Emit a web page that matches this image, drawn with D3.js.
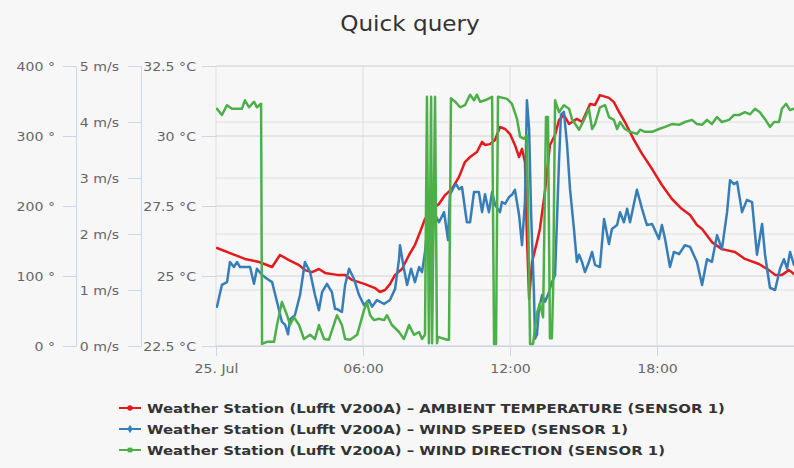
<!DOCTYPE html>
<html><head><meta charset="utf-8">
<script src="https://cdn.jsdelivr.net/npm/d3@7/dist/d3.min.js"></script>
<style>html,body{margin:0;padding:0;background:#f7f7f7;} svg{display:block;}</style>
</head><body>
<svg id="chart" width="794" height="468"></svg>
<script>
// ---- data: [hour of 25 Jul, value] ----
const temperature = [[0.04,26.00],[0.65,25.79],[1.18,25.61],[1.76,25.50],[2.29,25.32],[2.61,25.75],[2.98,25.57],[3.39,25.39],[3.63,25.21],[3.92,25.14],[4.20,25.25],[4.45,25.11],[4.94,25.04],[5.27,25.04],[5.55,24.86],[6.08,24.71],[6.49,24.57],[6.69,24.43],[6.90,24.50],[7.10,24.71],[7.31,25.04],[7.59,25.25],[7.88,25.75],[8.12,26.11],[8.33,26.57],[8.53,27.04],[8.82,27.39],[9.10,27.57],[9.35,27.89],[9.63,28.11],[9.92,28.54],[10.16,29.07],[10.37,29.25],[10.65,29.43],[10.86,29.79],[10.98,29.68],[11.18,29.71],[11.39,29.86],[11.59,30.32],[11.80,30.25],[12.00,30.07],[12.20,29.68],[12.37,29.25],[12.49,29.54],[12.61,29.07],[12.69,26.46],[12.78,24.18],[12.90,25.50],[13.10,26.21],[13.22,26.68],[13.43,28.04],[13.63,29.68],[13.84,30.04],[14.00,30.57],[14.20,30.75],[14.41,30.43],[14.73,30.61],[14.94,30.50],[15.27,31.14],[15.47,31.11],[15.67,31.46],[16.04,31.36],[16.24,31.21],[16.45,30.86],[16.69,30.50],[17.06,29.86],[17.39,29.36],[17.80,28.82],[18.20,28.25],[18.61,27.75],[19.02,27.39],[19.35,27.18],[19.63,26.82],[19.84,26.68],[20.24,26.21],[20.65,25.96],[21.18,25.86],[21.59,25.61],[22.16,25.43],[22.57,25.21],[22.82,25.04],[23.10,25.04],[23.39,25.21],[23.59,25.07]];

const windSpeed = [[0.04,0.70],[0.24,1.09],[0.45,1.14],[0.57,1.50],[0.73,1.41],[0.86,1.50],[0.98,1.41],[1.39,1.41],[1.55,1.11],[1.67,1.38],[1.88,1.27],[2.08,1.20],[2.29,1.14],[2.49,0.79],[2.69,0.43],[2.82,0.38],[2.94,0.21],[3.02,0.48],[3.22,0.55],[3.43,0.91],[3.63,1.50],[3.84,1.32],[4.04,0.91],[4.20,0.64],[4.33,0.96],[4.53,1.11],[4.73,0.96],[4.86,0.66],[4.94,0.66],[5.14,0.61],[5.27,1.09],[5.43,1.38],[5.63,1.20],[5.84,0.91],[6.04,0.73],[6.24,0.82],[6.37,0.70],[6.57,0.82],[6.86,0.75],[7.10,0.82],[7.31,1.02],[7.47,1.55],[7.51,1.80],[7.67,1.38],[7.80,1.09],[7.96,1.38],[8.12,1.14],[8.29,1.41],[8.41,1.32],[8.53,1.68],[8.69,2.39],[8.82,2.16],[8.94,2.34],[9.10,2.21],[9.31,2.39],[9.47,1.89],[9.55,2.70],[9.71,2.84],[9.80,2.89],[9.92,2.80],[10.04,2.84],[10.24,2.21],[10.37,2.21],[10.53,2.75],[10.73,2.75],[10.86,2.39],[10.98,2.71],[11.14,2.39],[11.27,2.75],[11.39,2.52],[11.59,2.39],[11.67,2.57],[11.80,2.54],[11.96,2.66],[12.08,2.70],[12.20,2.79],[12.37,2.34],[12.49,1.80],[12.61,2.57],[12.69,4.39],[12.78,3.88],[12.86,2.39],[12.98,0.91],[13.02,0.13],[13.10,0.20],[13.18,0.66],[13.31,0.91],[13.43,0.79],[13.59,0.96],[13.71,1.14],[13.84,1.27],[14.00,3.29],[14.08,4.13],[14.20,4.18],[14.33,3.59],[14.45,2.80],[14.61,2.09],[14.73,1.50],[14.82,1.63],[14.94,1.50],[15.06,1.32],[15.22,1.50],[15.35,1.68],[15.47,1.45],[15.67,1.41],[15.84,2.27],[16.04,1.82],[16.16,2.09],[16.37,2.16],[16.49,2.39],[16.65,2.21],[16.78,2.45],[16.90,2.21],[17.18,2.79],[17.39,2.45],[17.59,2.16],[17.80,2.18],[18.08,1.91],[18.20,2.16],[18.33,1.91],[18.53,1.41],[18.69,1.68],[18.90,1.64],[19.14,1.80],[19.35,1.77],[19.63,1.50],[19.84,1.09],[20.04,1.55],[20.24,1.50],[20.45,1.98],[20.65,1.73],[20.86,2.39],[20.98,2.96],[21.14,2.89],[21.27,2.93],[21.47,2.39],[21.67,2.61],[21.88,2.57],[22.08,1.63],[22.29,2.18],[22.41,1.63],[22.61,1.04],[22.82,1.00],[23.02,1.38],[23.18,1.55],[23.31,1.38],[23.43,1.68],[23.59,1.45]];

const windDirection = [[0.04,339],[0.24,330],[0.45,344],[0.65,339],[1.06,339],[1.18,351],[1.35,341],[1.55,349],[1.67,341],[1.84,346],[1.88,3],[2.08,6],[2.37,6],[2.49,30],[2.69,63],[2.90,44],[3.02,30],[3.18,41],[3.39,30],[3.59,10],[3.84,16],[4.04,10],[4.20,30],[4.41,10],[4.61,9],[4.94,44],[5.14,30],[5.27,10],[5.47,9],[5.76,16],[6.04,51],[6.16,63],[6.29,44],[6.45,37],[6.65,39],[6.86,37],[6.98,44],[7.18,30],[7.47,20],[7.67,10],[7.88,30],[8.08,16],[8.29,20],[8.41,10],[8.53,16],[8.61,356],[8.69,4],[8.78,356],[8.82,4],[8.94,356],[9.02,4],[9.06,13],[9.43,9],[9.51,9],[9.59,354],[9.76,349],[9.84,346],[9.96,341],[10.16,344],[10.37,359],[10.53,351],[10.65,359],[10.78,349],[10.98,351],[11.27,356],[11.35,3],[11.43,3],[11.51,356],[11.88,353],[12.08,346],[12.29,324],[12.41,299],[12.57,296],[12.69,301],[12.82,3],[12.94,3],[13.10,47],[13.22,61],[13.35,41],[13.47,327],[13.55,327],[13.63,11],[13.71,11],[13.76,80],[13.84,351],[14.00,334],[14.20,344],[14.41,339],[14.53,324],[14.82,309],[15.02,323],[15.22,339],[15.35,310],[15.47,317],[15.67,341],[15.88,344],[16.04,327],[16.24,323],[16.37,310],[16.49,320],[16.69,310],[16.90,306],[17.18,303],[17.31,309],[17.51,306],[17.80,306],[18.08,310],[18.33,313],[18.61,317],[18.90,316],[19.14,320],[19.43,323],[19.63,317],[19.84,316],[20.04,323],[20.24,317],[20.45,327],[20.65,320],[20.94,323],[21.14,330],[21.35,330],[21.59,334],[21.80,331],[22.00,339],[22.20,334],[22.41,324],[22.61,313],[22.78,320],[22.98,320],[23.10,339],[23.27,346],[23.43,337],[23.59,339]];

const xTickHours = [0, 6, 12, 18];
const xTickLabels = ["25. Jul", "06:00", "12:00", "18:00"];
const tempTicks = [22.5, 25, 27.5, 30, 32.5];
const speedTicks = [0, 1, 2, 3, 4, 5];
const dirTicks = [0, 100, 200, 300, 400];
const seriesNames = [
  "Weather Station (Lufft V200A) \u2013 AMBIENT TEMPERATURE (SENSOR 1)",
  "Weather Station (Lufft V200A) \u2013 WIND SPEED (SENSOR 1)",
  "Weather Station (Lufft V200A) \u2013 WIND DIRECTION (SENSOR 1)"
];
const seriesColors = ["#e41a1c", "#377eb8", "#4daf4a"];
const titleText = "Quick query";

// ---- layout ----
const svg = d3.select("#chart");
const FONT = "'DejaVu Sans', sans-serif";
const K = 1.13;   // horizontal text stretch
const KL = 1.145; // legend stretch
const L = 216, R = 804, T = 66, B = 346;
const day0 = new Date(2018, 6, 25, 0, 0);
const hr = h => new Date(day0.getTime() + h * 3600e3);

svg.append("rect").attr("width", 794).attr("height", 468).attr("fill", "#f7f7f7");

const x = d3.scaleTime().domain([day0, hr(24)]).range([L, R]);
const yT = d3.scaleLinear().domain([22.5, 32.5]).range([B, T]);
const yS = d3.scaleLinear().domain([0, 5]).range([B, T]);
const yD = d3.scaleLinear().domain([0, 400]).range([B, T]);

// grid
const grid = svg.append("g");
const hLines = [...dirTicks.map(yD), ...speedTicks.map(yS), ...tempTicks.map(yT)];
grid.selectAll("line.h").data(hLines).join("line")
  .attr("x1", L).attr("x2", R).attr("y1", d => d).attr("y2", d => d)
  .attr("stroke", "#dedede").attr("stroke-width", 1);
grid.selectAll("line.v").data(xTickHours).join("line")
  .attr("x1", d => x(hr(d))).attr("x2", d => x(hr(d))).attr("y1", T).attr("y2", B)
  .attr("stroke", "#dedede").attr("stroke-width", 1);

function styleAxis(g, labelSize) {
  g.selectAll(".tick line").attr("stroke", "#ccd6eb");
  g.select(".domain").attr("stroke", "#ccd6eb");
  g.selectAll("text").each(function () {
    const t = d3.select(this);
    const x0 = +t.attr("x") || 0;
    t.attr("x", 0).attr("dy", "0.36em")
     .attr("transform", `translate(${x0},0) scale(${K},1)`)
     .attr("fill", "#666").attr("font-size", labelSize).attr("font-family", FONT);
  });
}

// temperature axis
const gT = svg.append("g").attr("transform", `translate(${L},0)`)
  .call(d3.axisLeft(yT).tickValues(tempTicks).tickSize(14).tickPadding(6)
    .tickFormat(d => d + " \u00b0C"));
gT.select(".domain").remove();
styleAxis(gT, 12.5);

// wind speed axis
const gS = svg.append("g").attr("transform", `translate(141,0)`)
  .call(d3.axisLeft(yS).tickValues(speedTicks).tickSize(13).tickSizeOuter(0).tickPadding(9)
    .tickFormat(d => d + " m/s"));
styleAxis(gS, 12.5);

// wind direction axis
const gD = svg.append("g").attr("transform", `translate(76,0)`)
  .call(d3.axisLeft(yD).tickValues(dirTicks).tickSize(13).tickSizeOuter(0).tickPadding(8)
    .tickFormat(d => d + " \u00b0"));
styleAxis(gD, 12.5);

// x axis
const gX = svg.append("g").attr("transform", `translate(0,${B})`)
  .call(d3.axisBottom(x).tickValues(xTickHours.map(hr)).tickSize(10).tickSizeOuter(0).tickPadding(8)
    .tickFormat((d, i) => xTickLabels[i]));
gX.selectAll(".tick line").attr("stroke", "#ccd6eb");
gX.select(".domain").attr("stroke", "#ccd6eb");
gX.selectAll("text").attr("fill", "#666").attr("font-size", 12.5).attr("font-family", FONT)
  .attr("transform", `scale(${K},1)`);

// series
svg.append("clipPath").attr("id", "clip").append("rect")
  .attr("x", L).attr("y", T - 5).attr("width", R - L).attr("height", B - T + 10);
const plot = svg.append("g").attr("clip-path", "url(#clip)");
const series = [
  { data: temperature, y: yT },
  { data: windSpeed, y: yS },
  { data: windDirection, y: yD }
];
series.forEach((s, i) => {
  const line = d3.line().x(d => x(hr(d[0]))).y(d => s.y(d[1]));
  plot.append("path").datum(s.data).attr("d", line)
    .attr("fill", "none").attr("stroke", seriesColors[i]).attr("stroke-width", 2.5)
    .attr("stroke-linejoin", "round").attr("stroke-linecap", "round");
});

// title
svg.append("text").text(titleText)
  .attr("transform", `translate(410,31) scale(${K},1)`)
  .attr("text-anchor", "middle").attr("font-family", FONT).attr("font-size", 20.5)
  .attr("fill", "#333");

// legend
const symbols = [d3.symbolCircle, d3.symbolDiamond, d3.symbolSquare];
seriesNames.forEach((name, i) => {
  const yy = 408 + i * 21;
  const g = svg.append("g");
  g.append("line").attr("x1", 119).attr("x2", 141).attr("y1", yy).attr("y2", yy)
    .attr("stroke", seriesColors[i]).attr("stroke-width", 2);
  g.append("path").attr("d", d3.symbol().type(symbols[i]).size(22))
    .attr("transform", `translate(130,${yy})`).attr("fill", seriesColors[i]);
  g.append("text").text(name)
    .attr("transform", `translate(147,${yy + 4.5}) scale(${KL},1)`)
    .attr("font-family", FONT).attr("font-size", 13).attr("font-weight", "bold")
    .attr("fill", "#333");
});
</script>
</body></html>
